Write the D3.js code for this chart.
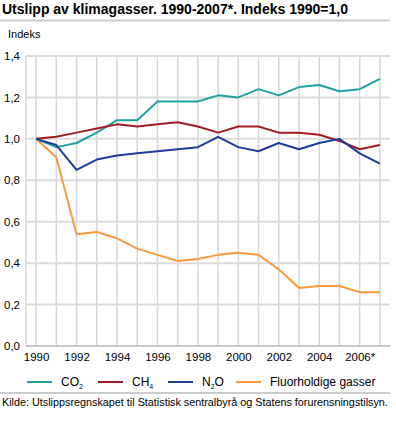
<!DOCTYPE html>
<html><head><meta charset="utf-8">
<script src="https://cdn.jsdelivr.net/npm/d3@7"></script>
<style>body{margin:0;background:#fff}svg{display:block;font-family:"Liberation Sans",Arial,sans-serif}</style>
</head><body>
<script>
const years = d3.range(1990, 2008);
const tickYears = [1990,1992,1994,1996,1998,2000,2002,2004,2006];
const tickLabels = ["1990","1992","1994","1996","1998","2000","2002","2004","2006*"];
const yTicks = [0,0.2,0.4,0.6,0.8,1.0,1.2,1.4];
const co2 = [1.00,0.96,0.98,1.03,1.09,1.09,1.18,1.18,1.18,1.21,1.20,1.24,1.21,1.25,1.26,1.23,1.24,1.29];
const ch4 = [1.00,1.01,1.03,1.05,1.07,1.06,1.07,1.08,1.06,1.03,1.06,1.06,1.03,1.03,1.02,0.99,0.95,0.97];
const n2o = [1.00,0.97,0.85,0.90,0.92,0.93,0.94,0.95,0.96,1.01,0.96,0.94,0.98,0.95,0.98,1.00,0.93,0.88];
const fluor = [1.00,0.91,0.54,0.55,0.52,0.47,0.44,0.41,0.42,0.44,0.45,0.44,0.37,0.28,0.29,0.29,0.26,0.26];
const seriesNames = ["CO","CH","N","Fluorholdige gasser"];
const seriesSubs = ["2","4","2",""];
const seriesTails = ["","","O",""];
const seriesData = [co2, ch4, n2o, fluor];
const colors = ["#1fa39f","#a11c22","#213d9b","#f99a3c"];

const W = 396, H = 422;
const svg = d3.select("body").append("svg").attr("width", W).attr("height", H);
const pLeft = 26, pRight = 390, pTop = 56, pBottom = 346;
const x = d3.scalePoint().domain(years).range([pLeft, pRight]).padding(0.5);
const y = d3.scaleLinear().domain([0, 1.4]).range([pBottom, pTop]);

// title
svg.append("text").attr("x", 2).attr("y", 14).attr("font-size", 14).attr("font-weight", "bold").attr("fill", "#000")
  .text("Utslipp av klimagasser. 1990-2007*. Indeks 1990=1,0");
svg.append("line").attr("x1", 0).attr("x2", 390).attr("y1", 20.5).attr("y2", 20.5).attr("stroke", "#cccccc").attr("stroke-width", 2);
svg.append("text").attr("x", 8).attr("y", 38).attr("font-size", 11).attr("fill", "#000").text("Indeks");

// grid
const g = svg.append("g");
g.selectAll("line.v").data(years).join("line")
  .attr("x1", d => x(d)).attr("x2", d => x(d)).attr("y1", pTop).attr("y2", pBottom)
  .attr("stroke", "#d6d6d6").attr("stroke-width", 1.5);
g.append("line").attr("x1", pLeft).attr("x2", pLeft).attr("y1", pTop).attr("y2", pBottom).attr("stroke", "#d6d6d6").attr("stroke-width", 1.5);
g.selectAll("line.h").data(yTicks).join("line")
  .attr("x1", pLeft).attr("x2", pRight).attr("y1", d => y(d)).attr("y2", d => y(d))
  .attr("stroke", d => d === 0 ? "#c8c8c8" : "#dcdcdc").attr("stroke-width", 2);

// y axis labels
const yAxis = d3.axisLeft(y).tickValues(yTicks).tickSize(0).tickPadding(6)
  .tickFormat(d => d3.format(".1f")(d).replace(".", ","));
svg.append("g").attr("transform", `translate(${pLeft},0)`).call(yAxis)
  .call(s => s.select(".domain").remove())
  .selectAll("text").attr("font-size", 11.5).attr("fill", "#000").attr("font-family", "Liberation Sans, Arial, sans-serif");

// x axis labels
const xAxis = d3.axisBottom(x).tickValues(tickYears).tickSize(0).tickPadding(7)
  .tickFormat((d, i) => tickLabels[i]);
svg.append("g").attr("transform", `translate(0,${pBottom})`).call(xAxis)
  .call(s => s.select(".domain").remove())
  .selectAll("text").attr("font-size", 11.5).attr("fill", "#000").attr("font-family", "Liberation Sans, Arial, sans-serif");

// lines
const line = d3.line().x((d, i) => x(years[i])).y(d => y(d));
const order = [3, 0, 1, 2];
order.forEach(k => {
  svg.append("path").datum(seriesData[k]).attr("d", line)
    .attr("fill", "none").attr("stroke", colors[k]).attr("stroke-width", 2)
    .attr("stroke-linejoin", "round");
});

// legend
const legX = [27, 98, 168, 236];
const ly = 382;
seriesNames.forEach((n, i) => {
  svg.append("line").attr("x1", legX[i]).attr("x2", legX[i] + 25).attr("y1", ly).attr("y2", ly)
    .attr("stroke", colors[i]).attr("stroke-width", 2);
  const t = svg.append("text").attr("x", legX[i] + 34).attr("y", ly + 4).attr("font-size", 12).attr("fill", "#000");
  t.append("tspan").text(n);
  if (seriesSubs[i]) {
    t.append("tspan").attr("font-size", 7).attr("dy", 3).text(seriesSubs[i]);
    if (seriesTails[i]) t.append("tspan").attr("font-size", 12).attr("dy", -3).text(seriesTails[i]);
  }
});
svg.append("line").attr("x1", 0).attr("x2", 390).attr("y1", 393).attr("y2", 393).attr("stroke", "#cccccc").attr("stroke-width", 2);
svg.append("text").attr("x", 2).attr("y", 406).attr("font-size", 10.8).attr("fill", "#000")
  .text("Kilde: Utslippsregnskapet til Statistisk sentralbyrå og Statens forurensningstilsyn.");
</script>
</body></html>
